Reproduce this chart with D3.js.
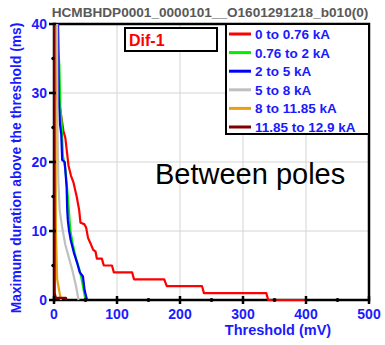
<!DOCTYPE html>
<html>
<head>
<meta charset="utf-8">
<script src="https://cdn.jsdelivr.net/npm/d3@7"></script>
<style>
  body { margin: 0; background: #fff; }
  text { font-family: "Liberation Sans", Arial, sans-serif; }
</style>
</head>
<body>
<div id="chart"></div>
<script>
// series: [threshold mV, max duration ms]
var seriesNames = ["0 to 0.76 kA", "0.76 to 2 kA", "2 to 5 kA", "5 to 8 kA", "8 to 11.85 kA", "11.85 to 12.9 kA"];
var seriesColors = ["#ff0000", "#00ee00", "#0000ff", "#c0c0c0", "#e8a010", "#800000"];

var red = [[1,40],[3,30],[10,27.5],[15,24.5],[18,23.5],[23,19.5],[27,18],[31,17],[36,15],[40,13],[42,11.2],[48,11],[51,10.5],[54,9],[58,8.2],[62,7.3],[66,7],[68,6],[76,6],[79,5],[92,5],[95,4],[124,4],[127,3],[175,3],[179,2],[235,2],[238,1],[337,1],[340,0],[400,0]];
var green = [[6,40],[7,36],[8.5,34],[10,28],[12,26],[14,21],[18,19],[22,15],[26,10],[30,8],[35,6],[40,4.5],[44,3],[48,1],[50,0]];
var blue = [[6.5,40],[7.5,30],[8.5,27.5],[9.5,25.5],[11.5,24],[13,20.3],[17,20],[20,16.4],[21,13],[22,11.5],[24,10],[26.5,8.7],[31.7,6.8],[37,5.3],[41,4],[46,3.4],[48.6,1.4],[52.5,0]];
var gray = [[5,40],[5.5,25],[7,17],[9,13],[13,10.5],[18,8],[24,6],[30,4],[35,2],[39,0]];
var orange = [[2,40],[3,10],[5,3],[7,2],[9,1],[11,0]];
var brown = [[0.5,40],[1,1],[3,0.3],[19,0.3],[20,0]];
var allSeries = [red, green, blue, gray, orange, brown];

var xTicks = [0, 100, 200, 300, 400, 500];
var xMinor = [50, 150, 250, 350, 450];
var yTicks = [0, 10, 20, 30, 40];
var yMinor = [5, 15, 25, 35];

var W = 385, H = 345;
var pL = 54, pR = 369, pT = 24, pB = 300;

var svg = d3.select("#chart").append("svg")
    .attr("width", W)
    .attr("height", H);

var x = d3.scaleLinear().domain([0, 500]).range([pL, pR]);
var y = d3.scaleLinear().domain([0, 40]).range([pB, pT]);

// grid
svg.append("g").selectAll("line")
    .data([100, 200, 300, 400])
    .enter().append("line")
    .attr("x1", d => x(d)).attr("x2", d => x(d))
    .attr("y1", pT).attr("y2", pB)
    .attr("stroke", "#d4d4d4").attr("stroke-width", 1);
svg.append("g").selectAll("line")
    .data([10, 20, 30])
    .enter().append("line")
    .attr("x1", pL).attr("x2", pR)
    .attr("y1", d => y(d)).attr("y2", d => y(d))
    .attr("stroke", "#d4d4d4").attr("stroke-width", 1);

// frame
svg.append("rect")
    .attr("x", pL).attr("y", pT)
    .attr("width", pR - pL).attr("height", pB - pT)
    .attr("fill", "none").attr("stroke", "#000").attr("stroke-width", 2.5);

// series
var line = d3.line().x(d => x(d[0])).y(d => y(d[1]));
svg.append("g").selectAll("path")
    .data(allSeries)
    .enter().append("path")
    .attr("d", line)
    .attr("fill", "none")
    .attr("stroke", (d, i) => seriesColors[i])
    .attr("stroke-width", 2.2)
    .attr("stroke-linejoin", "round");

// ticks
svg.append("g").selectAll("line")
    .data(xTicks)
    .enter().append("line")
    .attr("x1", d => x(d)).attr("x2", d => x(d))
    .attr("y1", pB - 4).attr("y2", pB + 4)
    .attr("stroke", "#000").attr("stroke-width", 2.5);
svg.append("g").selectAll("circle")
    .data(xMinor)
    .enter().append("circle")
    .attr("cx", d => x(d)).attr("cy", pB).attr("r", 2).attr("fill", "#000");
svg.append("g").selectAll("line")
    .data(yTicks)
    .enter().append("line")
    .attr("x1", pL - 5).attr("x2", pL + 2)
    .attr("y1", d => y(d)).attr("y2", d => y(d))
    .attr("stroke", "#000").attr("stroke-width", 2.5);
svg.append("g").selectAll("circle")
    .data(yMinor)
    .enter().append("circle")
    .attr("cx", pL - 1).attr("cy", d => y(d)).attr("r", 1.7).attr("fill", "#000");

// tick labels
svg.append("g").selectAll("text")
    .data(xTicks)
    .enter().append("text")
    .attr("x", d => x(d)).attr("y", pB + 19)
    .attr("text-anchor", "middle")
    .attr("font-size", "14px").attr("font-weight", "bold")
    .attr("fill", "#1a1aff")
    .text(d => d);
svg.append("g").selectAll("text")
    .data(yTicks)
    .enter().append("text")
    .attr("x", pL - 7).attr("y", d => y(d) + 5)
    .attr("text-anchor", "end")
    .attr("font-size", "14px").attr("font-weight", "bold")
    .attr("fill", "#1a1aff")
    .text(d => d);

// axis titles
svg.append("text")
    .attr("x", 278).attr("y", 335)
    .attr("text-anchor", "middle")
    .attr("font-size", "14.5px").attr("font-weight", "bold")
    .attr("fill", "#1a1aff")
    .text("Threshold (mV)");
svg.append("text")
    .attr("transform", "translate(21,168) rotate(-90)")
    .attr("text-anchor", "middle")
    .attr("font-size", "13.8px").attr("font-weight", "bold")
    .attr("fill", "#1a1aff")
    .text("Maximum duration above the threshold (ms)");

// title
svg.append("text")
    .attr("x", 210).attr("y", 17)
    .attr("text-anchor", "middle")
    .attr("font-size", "13.6px").attr("font-weight", "bold")
    .attr("fill", "#595959")
    .text("HCMBHDP0001_0000101__O1601291218_b010(0)");

// Dif-1 box
svg.append("rect")
    .attr("x", 125).attr("y", 28).attr("width", 92).attr("height", 23)
    .attr("fill", "#fff").attr("stroke", "#000").attr("stroke-width", 2);
svg.append("text")
    .attr("x", 129).attr("y", 46)
    .attr("font-size", "16px").attr("font-weight", "bold")
    .attr("fill", "#ff0000")
    .text("Dif-1");

// annotation
svg.append("text")
    .attr("x", 155).attr("y", 184)
    .attr("font-size", "29px")
    .attr("fill", "#000")
    .text("Between poles");

// legend
svg.append("rect")
    .attr("x", 226).attr("y", pT).attr("width", pR - 226).attr("height", 110)
    .attr("fill", "#fff").attr("stroke", "#000").attr("stroke-width", 2);
var leg = svg.append("g").selectAll("g")
    .data(seriesNames)
    .enter().append("g")
    .attr("transform", (d, i) => "translate(0," + (34 + i * 18.6) + ")");
leg.append("line")
    .attr("x1", 229).attr("x2", 251).attr("y1", 0).attr("y2", 0)
    .attr("stroke", (d, i) => seriesColors[i]).attr("stroke-width", 3);
leg.append("text")
    .attr("x", 255).attr("y", 5)
    .attr("font-size", "13.5px").attr("font-weight", "bold")
    .attr("fill", "#1a1aff")
    .text(d => d);
</script>
</body>
</html>
